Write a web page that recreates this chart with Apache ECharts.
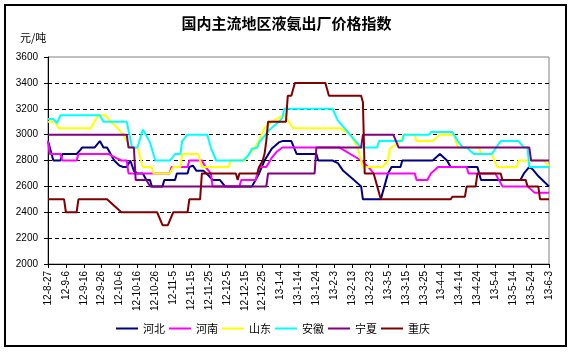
<!DOCTYPE html>
<html>
<head>
<meta charset="utf-8">
<script src="https://cdn.jsdelivr.net/npm/echarts@6/dist/echarts.min.js"></script>
<style>
  html, body { margin: 0; padding: 0; background: #fff; }
  #chart { width: 573px; height: 353px; }
</style>
</head>
<body>
<div id="chart"></div>
<script>
// x = days since 12-8-27, one tick label every 10 days
var xLabels = ['12-8-27', '12-9-6', '12-9-16', '12-9-26', '12-10-6', '12-10-16', '12-10-26',
  '12-11-5', '12-11-15', '12-11-25', '12-12-5', '12-12-15', '12-12-25', '13-1-4', '13-1-14',
  '13-1-24', '13-2-3', '13-2-13', '13-2-23', '13-3-5', '13-3-15', '13-3-25', '13-4-4',
  '13-4-14', '13-4-24', '13-5-4', '13-5-14', '13-5-24', '13-6-3']

var seriesNames = ['河北', '河南', '山东', '安徽', '宁夏', '重庆']

// [day, 元/吨] where the line changes
var hebei = [[0, 2950], [3, 2800], [7, 2800], [8, 2850], [16, 2850], [18, 2880], [19, 2900], [26, 2900],
  [29, 2950], [31, 2900], [33, 2900], [35, 2850], [37, 2800], [40, 2760], [42, 2750], [44, 2750],
  [46, 2800], [48, 2720], [50, 2700], [53, 2700], [55, 2650], [57, 2650], [58, 2600], [64, 2600],
  [65, 2650], [71, 2650], [72, 2700], [78, 2700], [79, 2750], [81, 2760], [83, 2720], [87, 2720],
  [90, 2680], [92, 2650], [96, 2650], [99, 2600], [114, 2600], [116, 2650], [118, 2700], [121, 2800],
  [125, 2890], [129, 2940], [131, 2950], [136, 2950], [139, 2850], [150, 2850], [151, 2800], [159, 2800],
  [162, 2780], [165, 2720], [171, 2650], [175, 2600], [176, 2500], [186, 2500], [188, 2600], [190, 2700],
  [192, 2750], [197, 2750], [198, 2800], [215, 2800], [219, 2850], [223, 2800], [225, 2750], [240, 2750],
  [242, 2650], [264, 2650], [266, 2700], [269, 2750], [271, 2730], [274, 2680], [277, 2640], [280, 2600]]

var henan = [[0, 2950], [1, 2850], [7, 2850], [8, 2800], [16, 2800], [17, 2850], [34, 2850], [38, 2820],
  [41, 2800], [44, 2800], [45, 2700], [68, 2700], [69, 2750], [78, 2750], [79, 2800], [86, 2800],
  [88, 2750], [91, 2700], [92, 2600], [107, 2600], [108, 2650], [116, 2650], [118, 2750], [122, 2750],
  [125, 2820], [128, 2870], [131, 2900], [163, 2900], [175, 2800], [179, 2750], [182, 2700], [205, 2700],
  [206, 2650], [212, 2650], [214, 2700], [218, 2750], [234, 2750], [235, 2700], [250, 2700], [254, 2600],
  [268, 2600], [272, 2550], [280, 2550]]

var shandong = [[0, 3100], [4, 3100], [6, 3050], [24, 3050], [26, 3100], [28, 3150], [32, 3150], [36, 3090],
  [39, 3050], [42, 3000], [44, 2950], [46, 2900], [50, 2900], [53, 2750], [58, 2750], [59, 2700],
  [68, 2700], [70, 2750], [74, 2750], [75, 2850], [84, 2850], [86, 2750], [101, 2750], [102, 2800],
  [110, 2800], [112, 2840], [114, 2870], [117, 2930], [121, 3050], [125, 3100], [129, 3130], [132, 3150],
  [134, 3110], [137, 3050], [163, 3050], [169, 3000], [173, 2900], [176, 2750], [187, 2750], [190, 2800],
  [191, 2890], [194, 2920], [197, 2950], [199, 3000], [205, 3000], [206, 2950], [215, 2950], [219, 3000],
  [227, 3000], [229, 2900], [241, 2900], [242, 2850], [248, 2850], [251, 2750], [262, 2750], [263, 2800],
  [277, 2800], [280, 2760]]

var anhui = [[0, 3120], [3, 3120], [5, 3090], [7, 3150], [29, 3150], [31, 3100], [44, 3100], [47, 2900],
  [50, 2900], [53, 3040], [57, 2940], [60, 2800], [68, 2800], [70, 2830], [71, 2850], [74, 2850],
  [75, 2950], [78, 3000], [89, 3000], [91, 2900], [94, 2800], [109, 2800], [112, 2840], [114, 2890],
  [117, 2900], [118, 2940], [121, 2990], [124, 3040], [129, 3100], [131, 3130], [132, 3200], [159, 3200],
  [162, 3110], [175, 2900], [184, 2900], [185, 2950], [198, 2950], [199, 3000], [213, 3000], [214, 3020],
  [226, 3020], [229, 2950], [232, 2900], [234, 2900], [238, 2850], [248, 2850], [253, 2950], [263, 2950],
  [266, 2900], [268, 2900], [269, 2750], [280, 2750]]

var ningxia = [[0, 3000], [44, 3000], [45, 2900], [48, 2900], [49, 2650], [55, 2650], [57, 2600],
  [122, 2600], [123, 2700], [149, 2700], [150, 2900], [175, 2900], [176, 3000], [193, 3000],
  [196, 2900], [269, 2900], [270, 2800], [280, 2800]]

var chongqing = [[0, 2500], [9, 2500], [10, 2400], [16, 2400], [17, 2500], [33, 2500], [37, 2450],
  [41, 2400], [61, 2400], [64, 2300], [67, 2300], [70, 2400], [78, 2400], [79, 2500], [85, 2500],
  [86, 2700], [105, 2700], [106, 2650], [107, 2700], [117, 2700], [118, 2750], [120, 2800], [121, 2850],
  [122, 2950], [123, 3100], [133, 3100], [134, 3300], [136, 3300], [137, 3350], [138, 3400], [155, 3400],
  [156, 3350], [157, 3300], [175, 3300], [176, 3250], [177, 2700], [182, 2700], [184, 2600], [185, 2600],
  [186, 2500], [225, 2500], [226, 2520], [233, 2520], [234, 2600], [239, 2600], [240, 2700], [253, 2700],
  [254, 2650], [267, 2650], [268, 2600], [274, 2600], [275, 2500], [280, 2500]]

var seriesData = [hebei, henan, shandong, anhui, ningxia, chongqing]
var colors = ['#000080', '#FF00FF', '#FFFF00', '#00FFFF', '#800080', '#800000']

var chart = echarts.init(document.getElementById('chart'))
var labelFont = 'Liberation Sans, Arial, sans-serif'
var cjkFont = 'Noto Sans CJK SC, sans-serif'

var option = {
    animation: false,
    backgroundColor: '#fff',
    color: colors,
    title: {
        text: '国内主流地区液氨出厂价格指数',
        left: 'center',
        top: 16,
        padding: 0,
        textStyle: {
            fontFamily: cjkFont,
            fontSize: 15,
            fontWeight: 'bold',
            color: '#000'
        }
    },
    graphic: [
        {
            type: 'rect',
            shape: { x: 5, y: 5, width: 561, height: 341 },
            style: { fill: 'none', stroke: '#000', lineWidth: 2 },
            silent: true
        },
        {
            type: 'text',
            left: 20,
            top: 32,
            style: { text: '元/吨', font: '11px ' + cjkFont, fill: '#000' }
        }
    ],
    legend: {
        data: seriesNames,
        left: 116,
        top: 323,
        padding: 0,
        icon: 'rect',
        itemGap: 4,
        itemWidth: 22,
        itemHeight: 2,
        textStyle: { fontFamily: cjkFont, fontSize: 11, color: '#000' }
    },
    grid: {
        left: 48,
        right: 24,
        top: 57,
        bottom: 89,
        show: true,
        borderColor: '#808080',
        borderWidth: 1
    },
    xAxis: {
        type: 'value',
        min: 0,
        max: 280,
        interval: 10,
        axisLine: { lineStyle: { color: '#000', width: 1 } },
        axisTick: { show: true, length: 4, lineStyle: { color: '#000' } },
        splitLine: { show: false },
        axisLabel: {
            rotate: 90,
            margin: 7,
            fontSize: 10,
            fontFamily: labelFont,
            color: '#000',
            formatter: function (v) {
                return xLabels[Math.round(v / 10)]
            }
        }
    },
    yAxis: {
        type: 'value',
        min: 2000,
        max: 3600,
        interval: 200,
        axisLine: { show: true, lineStyle: { color: '#000', width: 1 } },
        axisTick: { show: true, length: 4, lineStyle: { color: '#000' } },
        splitLine: {
            show: true,
            showMinLine: false,
            showMaxLine: false,
            lineStyle: { color: '#000', type: [4, 3], width: 1 }
        },
        axisLabel: {
            margin: 10,
            fontSize: 10,
            fontFamily: labelFont,
            color: '#000',
            formatter: function (v) {
                return String(v)
            }
        }
    },
    series: seriesNames.map(function (name, i) {
        return {
            name: name,
            type: 'line',
            symbol: 'none',
            data: seriesData[i],
            lineStyle: { width: 2, color: colors[i] },
            itemStyle: { color: colors[i] }
        }
    })
}
chart.setOption(option)
</script>
</body>
</html>
